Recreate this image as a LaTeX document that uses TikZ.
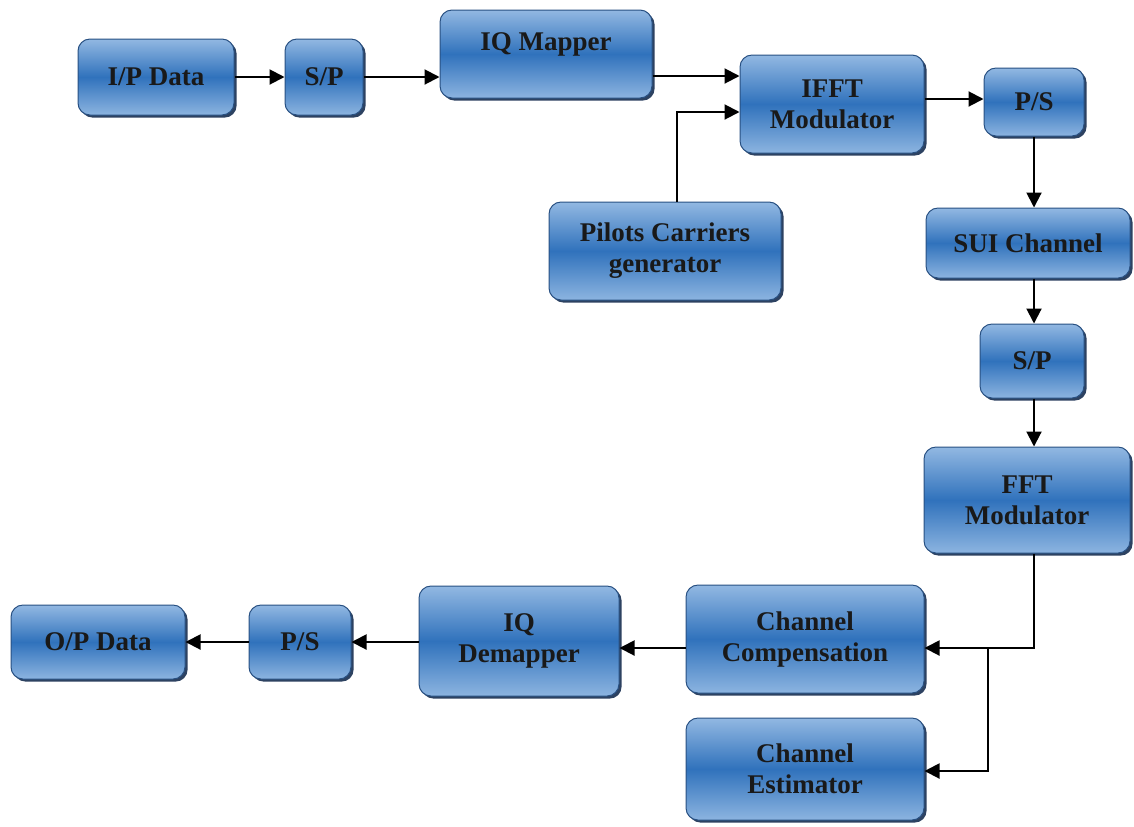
\documentclass[tikz,border=0pt]{standalone}
\usepackage{fontspec}
\setmainfont{Liberation Serif}
\usetikzlibrary{arrows.meta,shadows}
\definecolor{boxtop}{RGB}{146,184,226}
\definecolor{boxmid}{RGB}{48,114,188}
\definecolor{boxbot}{RGB}{140,180,224}
\definecolor{boxline}{RGB}{40,80,130}
\definecolor{boxshadow}{RGB}{22,45,80}
\tikzset{
  blk/.style={draw=boxline, line width=0.5pt, rounded corners=6pt,
    top color=boxtop, bottom color=boxbot, middle color=boxmid,
    drop shadow={shadow xshift=1.3pt, shadow yshift=-1.3pt, fill=boxshadow, opacity=0.9},
    font=\fontsize{13.5}{15.5}\selectfont\bfseries, text=black!90, align=center, inner sep=0pt},
  lbl/.style={font=\fontsize{13.5}{15.5}\selectfont\bfseries, text=black!90, align=center, inner sep=0pt},
  arr/.style={line width=1pt, -{Triangle[length=7.5pt,width=7.5pt]}},
  ln/.style={line width=1pt}
}
\begin{document}
\begin{tikzpicture}[x=0.5pt,y=-0.5pt]
\useasboundingbox (0,0) rectangle (1134,826);
% top row
\node[blk, minimum width=78pt, minimum height=38pt] (ipdata) at (156,77) {I/P Data};
\node[blk, minimum width=39pt, minimum height=38pt] (sp1) at (324,77) {S/P};
\node[blk, minimum width=106pt, minimum height=44pt] (iqmap) at (546,54) {};
\node[lbl] (iqmaptxt) at (546,44) {IQ Mapper};
\node[blk, minimum width=92pt, minimum height=49pt] (ifft) at (832,104) {IFFT\\Modulator};
\node[blk, minimum width=50pt, minimum height=34pt] (ps1) at (1034,102) {P/S};
\node[blk, minimum width=116pt, minimum height=49pt] (pilots) at (665,251) {Pilots Carriers\\generator};
% right column
\node[blk, minimum width=102pt, minimum height=35pt] (sui) at (1028,243) {SUI Channel};
\node[blk, minimum width=52pt, minimum height=37pt] (sp2) at (1032,361) {S/P};
\node[blk, minimum width=103pt, minimum height=53pt] (fft) at (1027,500) {FFT\\Modulator};
% bottom row
\node[blk, minimum width=119pt, minimum height=54pt] (comp) at (805,639) {Channel\\Compensation};
\node[blk, minimum width=119pt, minimum height=51pt] (est) at (805,769) {Channel\\Estimator};
\node[blk, minimum width=100pt, minimum height=55pt] (iqdemap) at (519,641) {IQ\\Demapper};
\node[blk, minimum width=51pt, minimum height=37pt] (ps2) at (300,642) {P/S};
\node[blk, minimum width=87pt, minimum height=37pt] (opdata) at (98,642) {O/P Data};
% helper coordinates
\coordinate (yiq) at (0,76);
\coordinate (pj) at (677,112);
\coordinate (yps) at (0,99);
\coordinate (xr) at (1034,0);
\coordinate (j1) at (988,648);
\coordinate (ye) at (0,771);
\coordinate (yb) at (0,642);
% connectors
\draw[arr] (ipdata.east) -- (sp1.west);
\draw[arr] (sp1.east) -- (sp1.east -| iqmap.west);
\draw[arr] (iqmap.east |- yiq) -- (ifft.west |- yiq);
\draw[arr] (pilots.north -| pj) |- (pj -| ifft.west);
\draw[arr] (ifft.east |- yps) -- (ps1.west |- yps);
\draw[arr] (ps1.south -| xr) -- (sui.north -| xr);
\draw[arr] (sui.south -| xr) -- (sp2.north -| xr);
\draw[arr] (sp2.south -| xr) -- (fft.north -| xr);
\draw[arr] (fft.south -| xr) |- (j1 -| comp.east);
\draw[arr] (j1) |- (ye -| est.east);
\draw[arr] (comp.west |- j1) -- (iqdemap.east |- j1);
\draw[arr] (iqdemap.west |- yb) -- (ps2.east |- yb);
\draw[arr] (ps2.west |- yb) -- (opdata.east |- yb);
\end{tikzpicture}
\end{document}
